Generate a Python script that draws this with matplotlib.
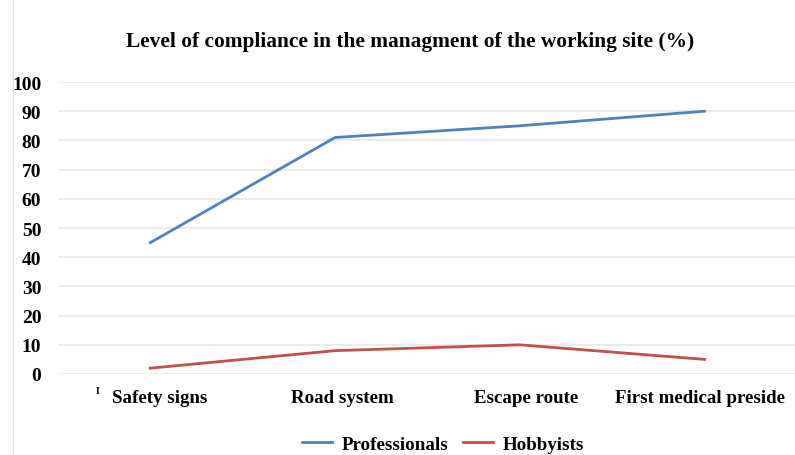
import matplotlib
matplotlib.use("Agg")
import matplotlib.pyplot as plt
from matplotlib.lines import Line2D
from matplotlib.transforms import ScaledTranslation

categories = ["Safety signs", "Road system", "Escape route", "First medical preside"]
professionals = [45, 81, 85, 90]
hobbyists = [2, 8, 10, 5]
yticks = [0, 10, 20, 30, 40, 50, 60, 70, 80, 90, 100]

plt.rcParams['font.family'] = ['Liberation Serif', 'DejaVu Serif']

fig = plt.figure(figsize=(7.95, 4.56), dpi=100)
ax = fig.add_axes([58/795, 81/456, 1 - 58/795, (375-83)/456])

x = list(range(len(categories)))
ax.plot(x, professionals, color="#4f81bd", lw=2, label="Professionals")
ax.plot(x, hobbyists, color="#c0504d", lw=2, label="Hobbyists")

ax.set_xlim(-0.5, 3.49)
ax.set_ylim(0, 100)
ax.set_yticks(yticks)
ax.set_yticklabels([str(v) for v in yticks], fontsize=14, fontweight="bold")
ax.tick_params(axis="y", length=0, pad=12)
ax.set_xticks(x)
ax.set_xticklabels(categories, fontsize=13.6, fontweight="bold")
ax.tick_params(axis="x", length=0, pad=11)
for lab, dx in zip(ax.get_xticklabels(), [9, 7, 6, -4]):
    lab.set_transform(lab.get_transform() + ScaledTranslation(dx/100, 0, fig.dpi_scale_trans))
ax.grid(axis="y", color="#e6e6e6", lw=1.2)
ax.set_axisbelow(True)
for s in ax.spines.values():
    s.set_visible(False)

fig.text(98/795, 1 - 392/456, "I", fontsize=7, fontweight="bold", ha="center", va="center")

fig.text(410/795, 1 - 42/456, "Level of compliance in the managment of the working site (%)",
         fontsize=15.4, fontweight="bold", ha="center", va="center")

fig.legend(loc="center", bbox_to_anchor=(443/795, 1 - 445/456), ncol=2, frameon=False,
           prop={"size": 13.7, "weight": "bold"}, handlelength=1.6, columnspacing=0.75,
           handletextpad=0.5)

fig.add_artist(Line2D([13/795, 13/795], [0, 1], color="#e0e0e0", lw=1))

fig.savefig("out.png", dpi=100)
